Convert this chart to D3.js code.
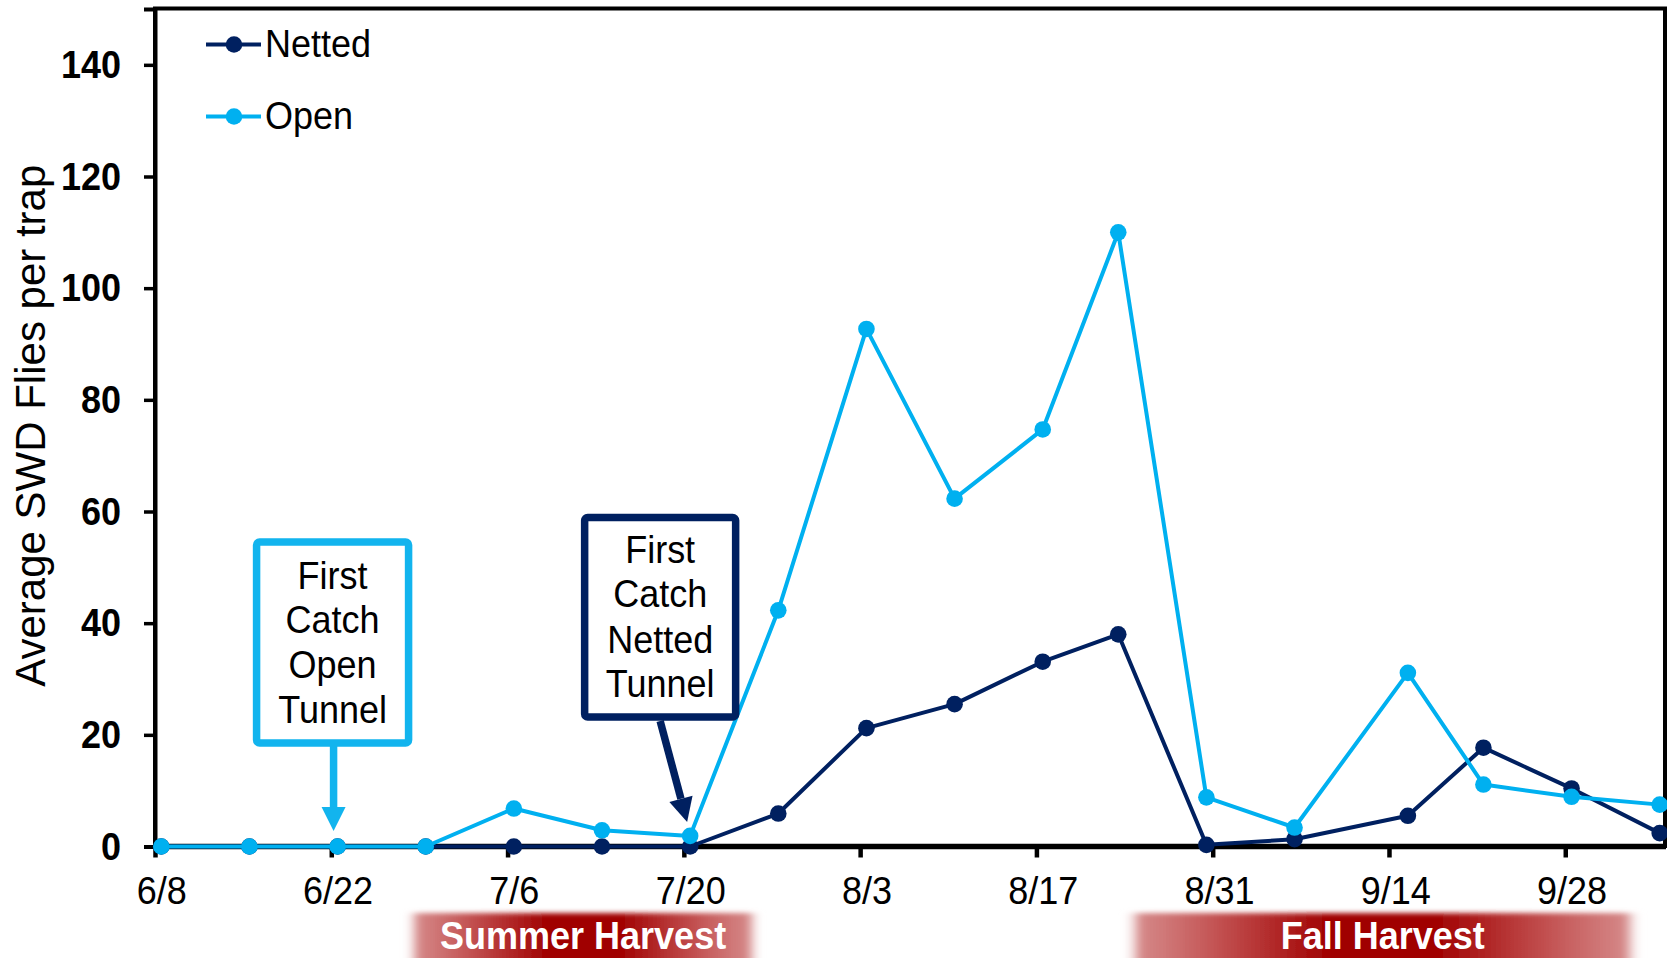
<!DOCTYPE html>
<html><head><meta charset="utf-8">
<script src="https://cdn.jsdelivr.net/npm/d3@7"></script>
<style>
body{margin:0;background:#fff;}
svg{display:block;}
text{font-family:"Liberation Sans",Arial,Helvetica,sans-serif;}
</style>
</head><body>
<svg id="chart" width="1667" height="958"></svg>
<script>
// ---------- data ----------
const sampleDates = ["6/8","6/15","6/22","6/29","7/6","7/13","7/20","7/27","8/3","8/10","8/17","8/23","8/30","9/6","9/15","9/21","9/28","10/5"];
const nettedValues = [0,0,0,0,0,0,0,5.9,21.2,25.5,33.1,38.0,0.3,1.3,5.5,17.7,10.4,2.4];
const openValues   = [0,0,0,0,6.8,2.9,1.9,42.3,92.7,62.3,74.7,110.0,8.8,3.4,31.1,11.1,8.9,7.5];
const xTickLabels = ["6/8","6/22","7/6","7/20","8/3","8/17","8/31","9/14","9/28"];
const yTickValues = [0,20,40,60,80,100,120,140];
const seriesNames = ["Netted","Open"];
const harvestNames = ["Summer Harvest","Fall Harvest"];
const harvestStarts = ["6/28","8/24"];
const harvestEnds = ["7/26","10/4"];
const axisStart = "6/8";
const axisEnd = "10/6";
const yLabel = "Average SWD Flies per trap";

// ---------- setup ----------
const parse = d3.timeParse("%Y/%m/%d");
const P = s => parse("2016/" + s);
const colNet = "#002060", colOpen = "#00B0F0";
const svg = d3.select("#chart");
const L = 155, R = 1666, T = 9, B = 846.5;
const SY = 1.07; // slight vertical stretch of the original lettering

const x = d3.scaleTime().domain([P(axisStart), P(axisEnd)]).range([L, R]);
const y = d3.scaleLinear().domain([0, 150]).range([B, T]);
const mid = d => d3.timeHour.offset(d, 12);
const halfDay = x(mid(P(axisStart))) - x(P(axisStart));

function txt(parent, tx, ty, s, opts) {
  const t = parent.append("text").attr("transform",`translate(${tx},${ty}) scale(1,${SY})`)
    .attr("font-size", opts.size || 36).attr("fill", opts.fill || "#000")
    .attr("text-anchor", opts.anchor || "start").text(s);
  if (opts.bold) t.attr("font-weight","bold");
  return t;
}

// harvest bands
const defs = svg.append("defs");
const grad = defs.append("linearGradient").attr("id","hg").attr("x1","0").attr("x2","1").attr("y1","0").attr("y2","0");
[[0,"#ffffff",0],[0.03,"#d07a7a",0.9],[0.17,"#c45555",1],[0.4,"#a00000",1],[0.6,"#a00000",1],[0.83,"#c45555",1],[0.97,"#d07a7a",0.9],[1,"#ffffff",0]]
  .forEach(([o,c,op]) => grad.append("stop").attr("offset",o).attr("stop-color",c).attr("stop-opacity",op));
const blur = defs.append("filter").attr("id","bl").attr("x","-0.1").attr("y","-0.5").attr("width","1.2").attr("height","2");
blur.append("feGaussianBlur").attr("stdDeviation","5 2.5");

harvestNames.forEach((n,i) => {
  const x0 = x(P(harvestStarts[i])), x1 = x(P(harvestEnds[i]));
  svg.append("rect").attr("x",x0).attr("y",913).attr("width",x1-x0).attr("height",60)
    .attr("fill","url(#hg)").attr("filter","url(#bl)");
  txt(svg, (x0+x1)/2, 949, n, {anchor:"middle", fill:"#fff", bold:true, size:36});
});

// plot frame
svg.append("rect").attr("x",L).attr("y",T-0.5).attr("width",1665-L).attr("height",B-T)
  .attr("fill","none").attr("stroke","#000").attr("stroke-width",4);

// y axis
const yAxis = d3.axisLeft(y).tickValues(yTickValues).tickSize(11).tickFormat(d3.format("d"));
const gy = svg.append("g").attr("transform",`translate(${L},0)`).call(yAxis);
gy.select(".domain").attr("stroke","#000").attr("stroke-width",4);
gy.selectAll(".tick line").attr("stroke","#000").attr("stroke-width",3.5);
gy.selectAll(".tick text").attr("x",0).attr("dy",0).attr("y",0)
  .attr("transform",`translate(-34,12.5) scale(1,${SY})`)
  .attr("font-size",36).attr("font-weight","bold")
  .attr("fill","#000").attr("font-family","Liberation Sans, Arial, sans-serif");

// x axis
const xTicks = xTickLabels.map(P);
const xAxis = d3.axisBottom(x).tickValues(xTicks).tickSize(11).tickFormat(d3.timeFormat("%-m/%-d"));
const gx = svg.append("g").attr("transform",`translate(0,${B})`).call(xAxis);
gx.select(".domain").attr("stroke","#000").attr("stroke-width",5.5).attr("d",`M${L},0H${R}`);
gx.selectAll(".tick line").attr("stroke","#000").attr("stroke-width",4.5);
gx.selectAll(".tick text").attr("x",0).attr("y",0).attr("dy",0)
  .attr("transform",`translate(${halfDay},57) scale(1,${SY})`).attr("font-size",36)
  .attr("fill","#000").attr("font-family","Liberation Sans, Arial, sans-serif");

// y label
svg.append("text").attr("transform",`translate(45,${(T+B)/2 - 2}) rotate(-90)`)
  .attr("text-anchor","middle").attr("font-size",42).attr("fill","#000").text(yLabel);

// series
const series = [
  {name: seriesNames[0], values: nettedValues, color: colNet},
  {name: seriesNames[1], values: openValues, color: colOpen}
];
const line = d3.line().x(d => x(mid(P(d.date)))).y(d => y(d.v));
series.forEach(s => {
  const pts = sampleDates.map((d,i) => ({date: d, v: s.values[i]}));
  svg.append("path").datum(pts).attr("d",line).attr("fill","none")
    .attr("stroke",s.color).attr("stroke-width",4).attr("stroke-linejoin","round");
  svg.append("g").selectAll("circle").data(pts).join("circle")
    .attr("cx",d => x(mid(P(d.date)))).attr("cy",d => y(d.v)).attr("r",8.3).attr("fill",s.color);
});

// legend
const legY = [44.5, 116.5];
series.forEach((s,i) => {
  const g = svg.append("g").attr("transform",`translate(0,${legY[i]})`);
  g.append("line").attr("x1",206).attr("x2",261).attr("stroke",s.color).attr("stroke-width",4);
  g.append("circle").attr("cx",234).attr("r",8.3).attr("fill",s.color);
  txt(g, 265, 12.5, s.name, {size:36});
});

// annotations
function annot(lines, color, cx, top, w, h, baselines, arrow) {
  const g = svg.append("g");
  g.append("rect").attr("x",cx-w/2).attr("y",top).attr("width",w).attr("height",h).attr("rx",3)
    .attr("fill","#fff").attr("stroke",color).attr("stroke-width",7.5);
  lines.forEach((t,i) => txt(g, cx, baselines[i], t, {anchor:"middle", size:36}));
  const [x1,y1,x2,y2] = arrow;
  const ang = Math.atan2(y2-y1, x2-x1), hl = 24, hw = 12;
  const bx = x2 - hl*Math.cos(ang), by = y2 - hl*Math.sin(ang);
  g.append("line").attr("x1",x1).attr("y1",y1).attr("x2",bx).attr("y2",by)
    .attr("stroke",color).attr("stroke-width",7.5);
  const px = -Math.sin(ang), py = Math.cos(ang);
  g.append("path").attr("d",`M${x2},${y2}L${bx+px*hw},${by+py*hw}L${bx-px*hw},${by-py*hw}Z`).attr("fill",color);
}
const openPt = x(mid(P(sampleDates[2])));
const netPt = x(mid(P(sampleDates[6])));
annot(["First","Catch","Open","Tunnel"], "#12B4EE", openPt-5, 542, 152, 201,
      [588.5,633,678,722.5], [openPt-4, 746, openPt-4, 831]);
annot(["First","Catch","Netted","Tunnel"], colNet, netPt-30, 517.5, 151, 199.5,
      [562.5,607,652.5,697], [netPt-30, 721, netPt-3, 822]);
</script>
</body></html>
